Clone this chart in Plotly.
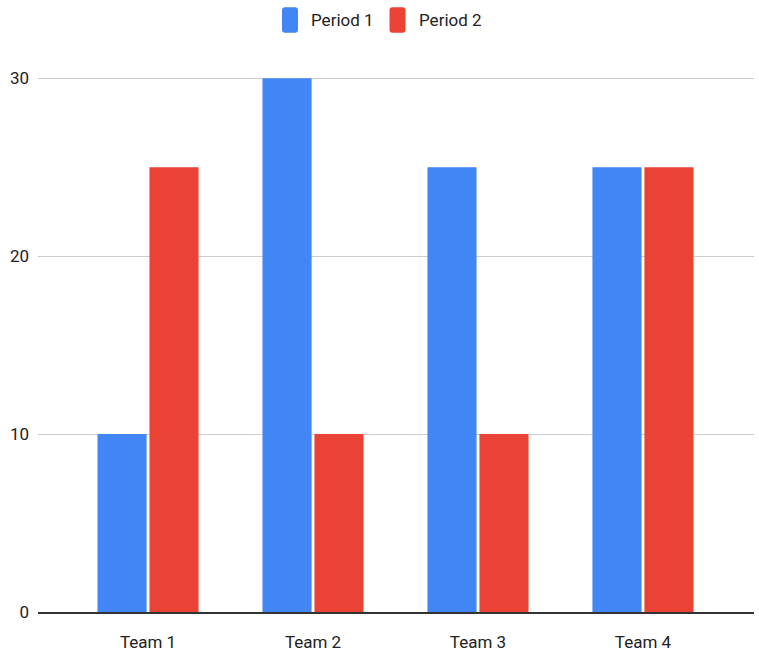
import plotly.graph_objects as go

# ---- data ----
categories = ["Team 1", "Team 2", "Team 3", "Team 4"]
period1 = [10, 30, 25, 25]
period2 = [25, 10, 10, 25]
series_names = ["Period 1", "Period 2"]
series_colors = ["#4285F4", "#EA4335"]
y_ticks = [0, 10, 20, 30]

# ---- layout constants (pixels) ----
W, H = 759, 655
L, R, T, B = 38, 5, 72.7, 43
PW, PH = W - L - R, H - T - B
FONT = "Roboto, Arial, sans-serif"
FS = 17


def xp(px):
    return (px - L) / PW


def yp(py):
    return (H - B - py) / PH


fig = go.Figure()
for name, vals, col in zip(series_names, [period1, period2], series_colors):
    fig.add_trace(go.Bar(x=categories, y=vals, name=name, marker=dict(color=col, line=dict(width=0)),
                         showlegend=False))

# custom legend (tall rounded markers like the reference)
legend_items = [(282, 309), (389.5, 416.5)]
shapes = []
annotations = []
r = 3
for (mx, tx), name, col in zip(legend_items, series_names, series_colors):
    x0, x1, y0, y1 = mx, mx + 16, 7, 32.5
    rx, ry = r / PW, r / PH
    X0, X1, Y0, Y1 = xp(x0), xp(x1), yp(y1), yp(y0)
    path = (f"M {X0+rx},{Y0} L {X1-rx},{Y0} Q {X1},{Y0} {X1},{Y0+ry} "
            f"L {X1},{Y1-ry} Q {X1},{Y1} {X1-rx},{Y1} L {X0+rx},{Y1} Q {X0},{Y1} {X0},{Y1-ry} "
            f"L {X0},{Y0+ry} Q {X0},{Y0} {X0+rx},{Y0} Z")
    shapes.append(dict(type="path", xref="paper", yref="paper", path=path,
                       fillcolor=col, line=dict(width=0)))
    annotations.append(dict(xref="paper", yref="paper", x=xp(tx), y=yp(19.5), text=name,
                            showarrow=False, xanchor="left", yanchor="middle",
                            font=dict(family=FONT, size=FS, color="#222222")))

fig.update_layout(
    width=W, height=H,
    margin=dict(l=L, r=R, t=T, b=B, autoexpand=False),
    paper_bgcolor="white", plot_bgcolor="white",
    barmode="group", bargap=0.37, bargroupgap=0.055,
    font=dict(family=FONT, size=FS, color="#222222"),
    shapes=shapes, annotations=annotations,
    xaxis=dict(range=[-0.667, 3.673], showgrid=False, showline=True, linecolor="#333333",
               linewidth=2, ticks="", ticklabelstandoff=14, zeroline=False),
    yaxis=dict(range=[0, 30.3], tickvals=y_ticks, showgrid=True, gridcolor="#cccccc",
               gridwidth=1, zeroline=False, showline=False, ticks="", ticklabelstandoff=8),
)

fig.write_html("out.html", config={"displayModeBar": False},
               post_script="document.body.style.margin='0';document.body.style.overflow='hidden';")
